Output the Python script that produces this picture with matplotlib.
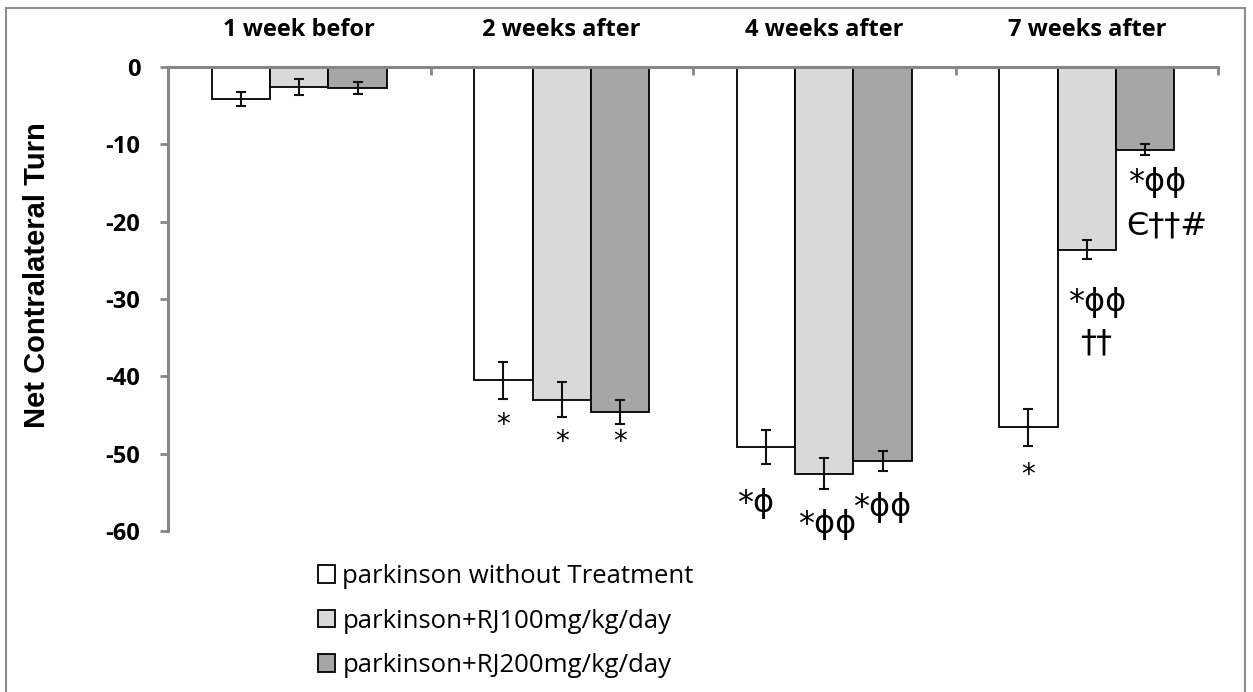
import numpy as np
import matplotlib
matplotlib.use('Agg')
import matplotlib.pyplot as plt
from matplotlib.patches import Rectangle

plt.rcParams['axes.unicode_minus'] = False

# data
groups = ['1 week befor', '2 weeks after', '4 weeks after', '7 weeks after']
series = ['parkinson without Treatment', 'parkinson+RJ100mg/kg/day', 'parkinson+RJ200mg/kg/day']
untreated = [-4.1, -40.5, -49.2, -46.6]
rj100 = [-2.6, -43.0, -52.6, -23.6]
rj200 = [-2.75, -44.6, -50.9, -10.7]
err_untreated = [0.9, 2.4, 2.2, 2.4]
err_rj100 = [1.0, 2.3, 2.0, 1.2]
err_rj200 = [0.75, 1.6, 1.3, 0.7]
colors = ['white', '#D9D9D9', '#A6A6A6']

# significance marks: (group, series, text, y, x shift in bar widths)
marks = [
    (1, 0, '*', -46.3, 0.0),
    (1, 1, '*', -48.5, 0.0),
    (1, 2, '*', -48.5, 0.0),
    (2, 0, '*ϕ', -56.4, -0.17),
    (2, 1, '*ϕϕ', -59.2, 0.05),
    (2, 2, '*ϕϕ', -56.9, 0.0),
    (3, 0, '*', -52.8, 0.0),
    (3, 1, '*ϕϕ', -30.4, 0.18),
    (3, 1, '††', -35.7, 0.16),
    (3, 2, '*ϕϕ', -15.0, 0.2),
    (3, 2, 'Є††#', -20.6, 0.38),
]

fig = plt.figure(figsize=(12.53, 6.92), dpi=100)
ax = fig.add_axes([168/1253, 1-531/692, 1050/1253, 464/692])

x = np.arange(len(groups)) + 0.5
w = 1/4.5
vals = [untreated, rj100, rj200]
errs = [err_untreated, err_rj100, err_rj200]
for i in range(3):
	ax.bar(x + (i-1)*w, vals[i], w, color=colors[i], edgecolor='black', linewidth=1.3,
		label=series[i], yerr=errs[i], capsize=3.6,
		error_kw=dict(elinewidth=1.5, capthick=1.5, ecolor='#111111'))

for g, s, txt, y, dx in marks:
	size = 20 if txt == '*' else 23
	ax.text(x[g] + (s-1)*w + dx*w, y, txt, ha='center', va='center', fontsize=size,
		family=['DejaVu Sans'], clip_on=False)

ax.set_xlim(0, 4)
ax.set_ylim(-60, 0)
ax.set_yticks(range(-60, 1, 10))
for spine in ['bottom', 'right']:
	ax.spines[spine].set_visible(False)
for spine in ['top', 'left']:
	ax.spines[spine].set_color('#868686')
	ax.spines[spine].set_linewidth(2.2)
ax.yaxis.set_tick_params(length=6, width=2, color='#868686', pad=14)
for lab in ax.get_yticklabels():
	lab.set_fontfamily('Open Sans')
	lab.set_fontweight('bold')
	lab.set_fontsize(17)

ax.xaxis.set_ticks_position('top')
ax.set_xticks(x)
ax.set_xticklabels(groups, fontfamily='Open Sans', fontweight='bold', fontsize=17)
ax.xaxis.set_tick_params(which='major', length=0, pad=18)
ax.set_xticks([1, 2, 3, 4], minor=True)
ax.xaxis.set_tick_params(which='minor', direction='in', length=6, width=2, color='#868686')

ax.set_ylabel('Net Contralateral Turn', fontfamily='Liberation Sans', fontweight='bold', fontsize=21)
ax.yaxis.set_label_coords(-0.111, 0.552)

fig.legend(loc='upper left', bbox_to_anchor=(318/1253, 1-564/692), frameon=False,
	prop={'family': 'Open Sans', 'size': 18.5}, handlelength=0.65, handleheight=0.65,
	handletextpad=0.3, labelspacing=0.76, borderpad=0, borderaxespad=0)

fig.patches.append(Rectangle((6/1253, -0.02), 1239/1253, 1.02-8/692, transform=fig.transFigure,
	fill=False, edgecolor='#8C8C8C', linewidth=1.5))

fig.savefig('out.png', dpi=100)
